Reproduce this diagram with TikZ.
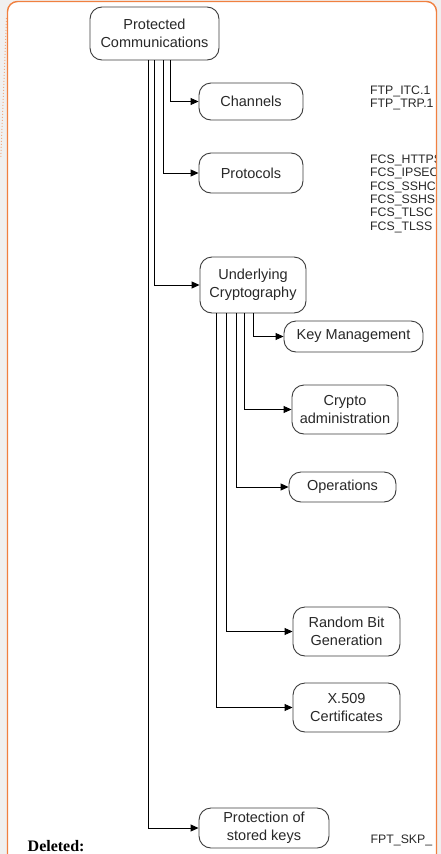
\documentclass[tikz,border=0pt]{standalone}
\usepackage{fontspec}
\setmainfont{Liberation Sans}
\newfontfamily\delfont{Liberation Serif}
\usetikzlibrary{arrows.meta}
\definecolor{bggrey}{RGB}{240,240,240}
\definecolor{frameorange}{RGB}{240,128,64}
\definecolor{boxline}{RGB}{60,60,60}
\definecolor{txt}{RGB}{40,40,40}
\tikzset{
  box/.style={draw=boxline, line width=0.9pt, rounded corners=12pt, fill=white,
    align=center, text=txt, inner sep=0pt, font=\fontsize{14.5}{18}\selectfont},
  conn/.style={draw=black, line width=0.9pt, -{Triangle[length=8pt,width=7pt]}},
  req/.style={anchor=base west, inner sep=0pt, text=txt, font=\fontsize{12.3}{13}\selectfont},
}
\begin{document}
\begin{tikzpicture}[x=1pt,y=-1pt]
\useasboundingbox (0,0) rectangle (441,854);
\clip (0,0) rectangle (441,854);
\fill[bggrey] (0,0) rectangle (441,854);
\fill[white, rounded corners=10pt] (7.5,880) -- (7.5,1.5) -- (436.5,1.5) -- (436.5,880) -- cycle;
\draw[frameorange, opacity=0.6, line width=1pt, dotted] (6.5,18) -- (0.8,158);

% nodes
\node[box, minimum width=129pt, minimum height=53pt] (pc) at (154.5,33.5) {Protected\\Communications};
\node[box, minimum width=104pt, minimum height=37pt] (ch) at (251,101.5) {Channels};
\node[box, minimum width=104pt, minimum height=40pt] (pr) at (251,173) {Protocols};
\node[box, minimum width=106pt, minimum height=56pt] (uc) at (253,285) {Underlying\\Cryptography};
\node[box, minimum width=139pt, minimum height=31pt] (km) at (353.5,336.5) {Key Management};
\node[box, minimum width=106pt, minimum height=49pt] (ca) at (345,409.5) {Crypto\\administration};
\node[box, minimum width=107pt, minimum height=30pt] (op) at (342.5,487) {Operations};
\node[box, minimum width=107pt, minimum height=49pt] (rb) at (346.5,631.5) {Random Bit\\Generation};
\node[box, minimum width=107pt, minimum height=49pt] (xc) at (346.5,707.5) {X.509\\Certificates};
\node[box, minimum width=130pt, minimum height=40pt] (ps) at (264,828) {Protection of\\stored keys};

% connectors
\draw[conn] ([xshift=15.5pt]pc.south) |- (ch.west);
\draw[conn] ([xshift=8.5pt]pc.south) |- (pr.west);
\draw[conn] ([xshift=-0.5pt]pc.south) |- (uc.west);
\draw[conn] ([xshift=-6.5pt]pc.south) |- (ps.west);
\draw[conn] ([xshift=0pt]uc.south) |- (km.west);
\draw[conn] ([xshift=-9pt]uc.south) |- (ca.west);
\draw[conn] ([xshift=-17pt]uc.south) |- (op.west);
\draw[conn] ([xshift=-27pt]uc.south) |- (rb.west);
\draw[conn] ([xshift=-37pt]uc.south) |- (xc.west);

% requirement labels, clipped by the frame as in the reference
\begin{scope}
\clip (0,0) rectangle (435.8,854);
\node[req] (t1) at (370,94) {FTP\_ITC.1};
\node[req] (t2) at (370,107.3) {FTP\_TRP.1};
\node[req] (t3) at (370,163.5) {FCS\_HTTPS};
\node[req] (t4) at (370,176.8) {FCS\_IPSEC};
\node[req] (t5) at (370,190.1) {FCS\_SSHC};
\node[req] (t6) at (370,203.4) {FCS\_SSHS};
\node[req] (t7) at (370,216.7) {FCS\_TLSC};
\node[req] (t8) at (370,230) {FCS\_TLSS};
\node[req] (t9) at (370.5,843.5) {FPT\_SKP\_};
\end{scope}

\draw[frameorange, line width=1.4pt, rounded corners=10pt] (7.5,880) -- (7.5,1.5) -- (436.5,1.5) -- (436.5,880);

\node[anchor=base west, inner sep=0pt, font=\delfont\bfseries\fontsize{16}{18}\selectfont] (del) at (27.5,851) {Deleted:};
\end{tikzpicture}
\end{document}
